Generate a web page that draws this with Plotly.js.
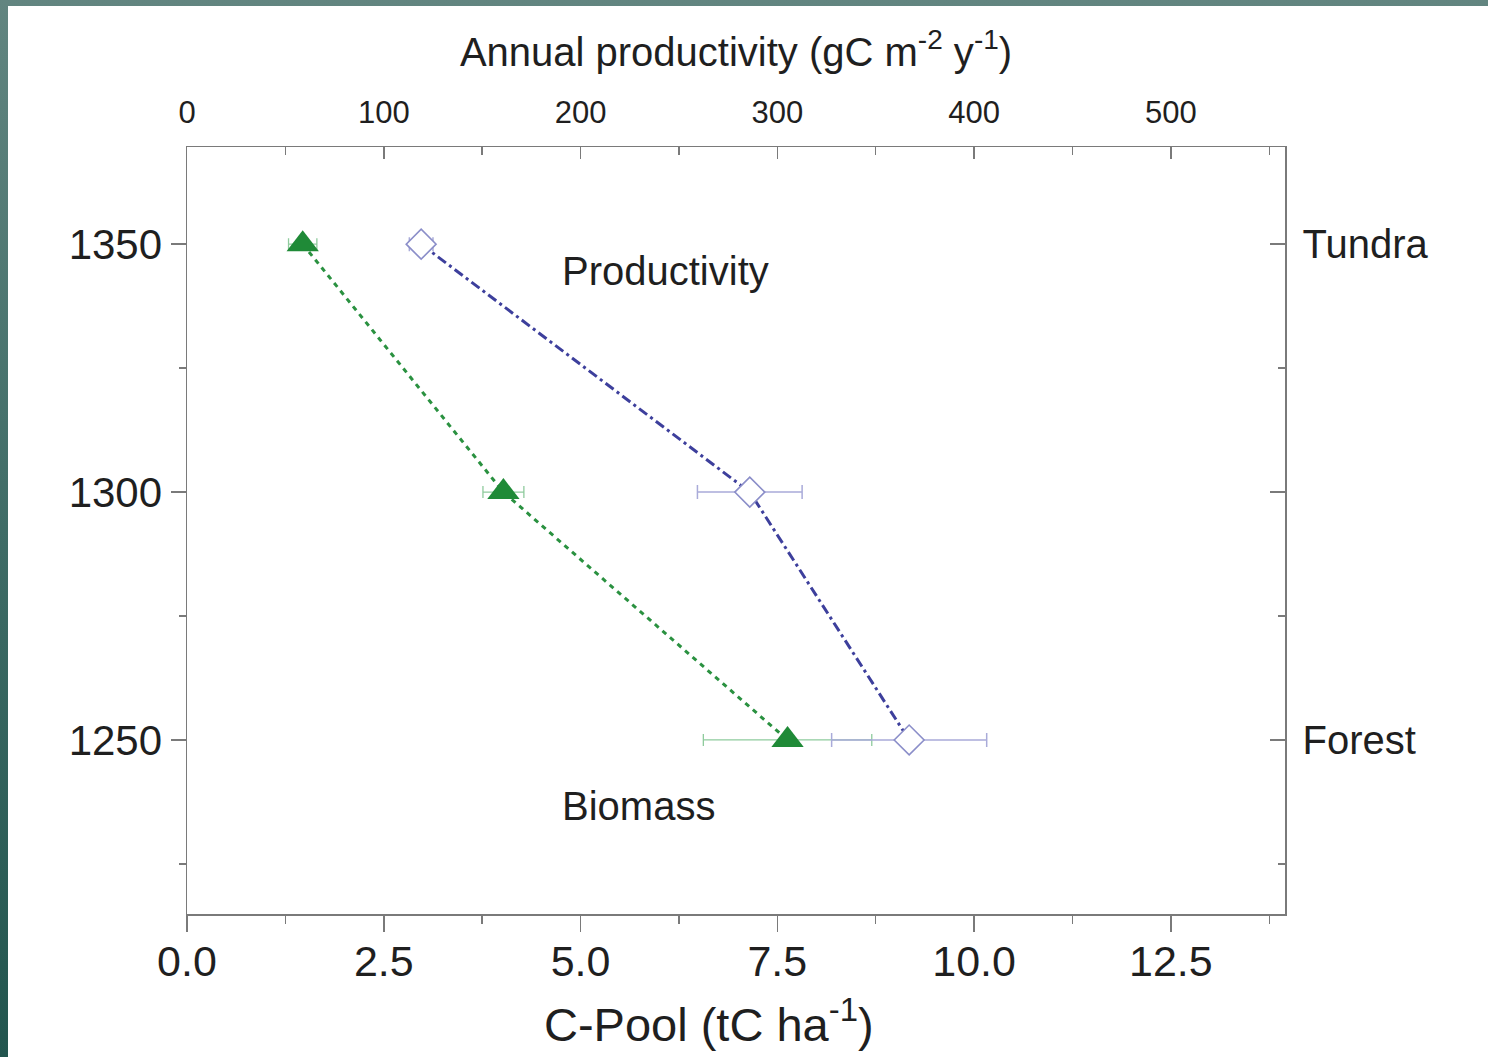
<!DOCTYPE html>
<html>
<head>
<meta charset="utf-8">
<script src="https://cdn.plot.ly/plotly-3.0.1.min.js"></script>
<style>
  html, body { margin: 0; padding: 0; }
  body {
    width: 1488px; height: 1057px; overflow: hidden;
    background: linear-gradient(to bottom, #628580 0%, #3f6c66 50%, #22554e 100%);
    position: relative;
  }
  #chart { position: absolute; left: 8px; top: 6px; width: 1480px; height: 1051px; background: #fff; }
</style>
</head>
<body>
<div id="chart"></div>
<script>
// Elevation levels (m a.s.l.)
const elevation = [1350, 1300, 1250];
const zoneLabels = ["Forest", "", "Tundra"];
const zoneTicks = [1250, 1300, 1350];

// Biomass carbon pool (tC ha-1) with error
const biomass = [1.47, 4.02, 7.63];
const biomassErr = [0.18, 0.26, 1.07];

// Annual productivity (gC m-2 y-1) with error
const productivity = [119, 286, 367];
const productivityErr = [6, 26.6, 39.4];

const bottomTicks = [0, 2.5, 5, 7.5, 10, 12.5];
const topTicks = [0, 100, 200, 300, 400, 500];

const FONT = '"Liberation Sans", Arial, Helvetica, sans-serif';
const TXT = '#1f1f1f';
const AX = '#7a7a7a';

const traces = [
  {
    name: 'Biomass',
    x: biomass, y: elevation,
    xaxis: 'x', yaxis: 'y',
    type: 'scatter', mode: 'lines+markers',
    line: { color: '#2a9140', width: 3, dash: '5px,5px' },
    marker: { symbol: 'triangle-up', size: 28, color: '#1f8a37', line: { width: 0 } },
    error_x: { type: 'data', array: biomassErr, visible: true, color: '#8fcb9d', thickness: 1.3, width: 6 },
    showlegend: false, hoverinfo: 'x+y'
  },
  {
    name: 'Productivity',
    x: productivity, y: elevation,
    xaxis: 'x2', yaxis: 'y',
    type: 'scatter', mode: 'lines+markers',
    line: { color: '#3d3f9c', width: 3, dash: '10px,4px,3px,4px' },
    marker: { symbol: 'diamond', size: 23, color: '#ffffff', line: { color: '#8b8ec9', width: 1.6 } },
    error_x: { type: 'data', array: productivityErr, visible: true, color: '#a9abd9', thickness: 1.5, width: 7 },
    showlegend: false, hoverinfo: 'x+y'
  },
  {
    // carries the right-hand zone axis
    x: [], y: [], xaxis: 'x', yaxis: 'y2', type: 'scatter', mode: 'markers',
    showlegend: false, hoverinfo: 'skip'
  }
];

const yRange = [1214.9, 1369.6];

const layout = {
  width: 1480, height: 1051,
  paper_bgcolor: '#ffffff', plot_bgcolor: '#ffffff',
  margin: { l: 179, r: 203, t: 141, b: 143 },
  font: { family: FONT, color: TXT },
  showlegend: false,
  xaxis: {
    range: [0, 13.95], tickvals: bottomTicks, tickformat: '.1f',
    showgrid: false, zeroline: false,
    showline: true, linecolor: AX, linewidth: 1.5,
    ticks: 'outside', ticklen: 16, tickwidth: 1.5, tickcolor: AX,
    minor: { dtick: 1.25, ticks: 'outside', ticklen: 8, tickwidth: 1.5, tickcolor: AX, showgrid: false },
    tickfont: { family: FONT, size: 43, color: TXT },
    ticklabelstandoff: -7
  },
  xaxis2: {
    overlaying: 'x', side: 'top', anchor: 'y',
    range: [0, 558], tickvals: topTicks,
    showgrid: false, zeroline: false,
    showline: true, linecolor: AX, linewidth: 1.5,
    ticks: 'inside', ticklen: 12, tickwidth: 1.5, tickcolor: AX,
    minor: { dtick: 50, ticks: 'inside', ticklen: 8, tickwidth: 1.5, tickcolor: AX, showgrid: false },
    tickfont: { family: FONT, size: 31, color: TXT },
    ticklabelstandoff: 10,
    title: { text: 'Annual productivity (gC m<sup>-2</sup> y<sup>-1</sup>)', font: { family: FONT, size: 40, color: TXT }, standoff: 16 }
  },
  yaxis: {
    range: yRange, tickvals: zoneTicks,
    showgrid: false, zeroline: false,
    showline: true, linecolor: AX, linewidth: 1.5,
    ticks: 'outside', ticklen: 15, tickwidth: 1.5, tickcolor: AX,
    minor: { dtick: 25, ticks: 'outside', ticklen: 7, tickwidth: 1.5, tickcolor: AX, showgrid: false },
    tickfont: { family: FONT, size: 42, color: TXT },
    ticklabelstandoff: 0
  },
  yaxis2: {
    overlaying: 'y', side: 'right', anchor: 'x',
    range: yRange, tickvals: zoneTicks, ticktext: zoneLabels,
    showgrid: false, zeroline: false,
    showline: true, linecolor: AX, linewidth: 1.5,
    ticks: 'inside', ticklen: 15, tickwidth: 1.5, tickcolor: AX,
    minor: { dtick: 25, ticks: 'inside', ticklen: 7, tickwidth: 1.5, tickcolor: AX, showgrid: false },
    tickfont: { family: FONT, size: 40, color: TXT },
    ticklabelstandoff: 8
  },
  annotations: [
    { text: 'Productivity', xref: 'x', yref: 'y', x: 4.74, y: 1344.6, xanchor: 'left', yanchor: 'middle',
      showarrow: false, font: { family: FONT, size: 40, color: TXT } },
    { text: 'Biomass', xref: 'x', yref: 'y', x: 4.74, y: 1236.7, xanchor: 'left', yanchor: 'middle',
      showarrow: false, font: { family: FONT, size: 40, color: TXT } },
    { text: 'C-Pool (tC ha<sup>-1</sup>)', xref: 'paper', yref: 'paper', x: 0.475, y: -0.14,
      xanchor: 'center', yanchor: 'middle', showarrow: false, font: { family: FONT, size: 47, color: TXT } }
  ]
};

Plotly.newPlot('chart', traces, layout, { displayModeBar: false, staticPlot: true });
</script>
</body>
</html>
